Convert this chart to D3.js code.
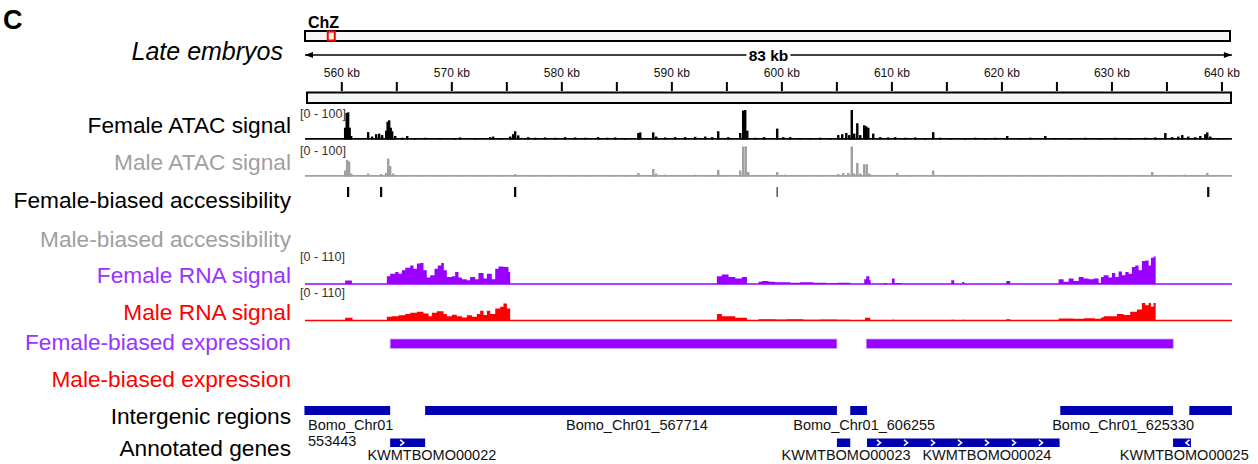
<!DOCTYPE html>
<html><head><meta charset="utf-8">
<script src="https://cdn.jsdelivr.net/npm/d3@7"></script>
<style>body{margin:0;background:#fff}svg{display:block;font-family:"Liberation Sans",Arial,Helvetica,sans-serif}</style>
</head><body><svg id="c" width="1258" height="464"></svg>
<script>
// ---------------- DATA ----------------
const regionKb = [556.7, 640.95];
const chromLenKb = 21500;
const majorTicks = [560, 570, 580, 590, 600, 610, 620, 630, 640];
const minorTicks = [565, 575, 585, 595, 605, 615, 625, 635];
const regionLabel = "83 kb";
const trackNames = ["Female ATAC signal","Male ATAC signal","Female-biased accessibility","Male-biased accessibility",
  "Female RNA signal","Male RNA signal","Female-biased expression","Male-biased expression","Intergenic regions","Annotated genes"];
const atacRange = "[0 - 100]";
const rnaRange = "[0 - 110]";

// ATAC peaks: [position kb, value]
const femaleATAC = [
[560.35,40],[560.49,90],[560.62,92],[560.76,40],[560.9,12],[562.44,25],[562.8,10],[563.17,18],[563.44,20],[563.71,15],
[564.08,30],[564.21,60],[564.35,65],[564.49,40],[564.62,28],[564.9,12],[565.53,6],[565.99,12],[566.71,5],[567.62,6],
[568.99,4],[570.35,5],[570.8,7],[572.17,4],[573.53,8],[573.8,10],[574.44,5],[575.35,10],[575.62,18],[575.8,28],[576.08,14],
[576.99,8],[577.62,6],[578.53,7],[579.44,6],[580.35,8],[581.26,7],[582.17,6],[583.35,8],[584.17,6],[584.9,7],[585.8,5],
[587.0,22],[587.17,24],[588.35,24],[588.62,10],[589.44,7],[590.35,8],[591.26,8],[592.17,9],[593.08,10],[593.71,8],
[594.26,28],[595.17,8],[596.26,22],[596.53,98],[596.71,100],[596.9,30],[597.62,6],[598.44,8],[599.62,37],[600.17,8],
[600.8,8],[601.71,5],[602.62,5],[603.53,6],[604.44,5],[605.17,15],[605.53,18],[605.9,22],[606.17,15],[606.4,100],
[606.62,20],[606.9,55],[607.17,15],[607.53,48],[607.71,45],[607.9,40],[608.35,20],[608.99,8],[609.71,7],[610.35,8],
[611.26,6],[612.17,7],[613.08,5],[613.8,25],[614.44,6],[615.35,5],[616.71,5],[617.62,6],[618.53,5],[619.44,6],
[620.53,12],[621.71,5],[622.62,6],[623.99,12],[624.9,5],[626.26,5],[627.62,6],[628.99,5],[630.35,6],[631.71,5],
[633.08,6],[633.99,7],[634.9,22],[635.53,8],[636.08,10],[636.44,15],[636.99,10],[637.62,8],[638.08,12],[638.53,18],
[638.71,24],[638.99,10],[639.71,4]
];
const maleATAC = [
[560.35,20],[560.53,55],[560.71,50],[560.9,10],[562.44,10],[563.62,8],[564.08,12],[564.26,60],[564.44,35],[564.71,10],
[565.8,5],[567.17,4],[568.99,3],[570.8,4],[572.62,3],[574.44,3],[575.8,8],[577.17,4],[578.99,3],[580.8,4],[582.62,4],
[584.44,5],[585.8,4],[587.0,12],[588.35,25],[588.62,10],[589.44,6],[590.8,5],[592.17,6],[593.53,5],[594.26,22],[594.9,5],
[596.26,20],[596.53,100],[596.76,100],[596.99,15],[598.08,4],[599.62,15],[600.35,6],[601.71,3],[603.53,4],[605.17,8],
[605.62,12],[606.08,12],[606.4,100],[606.62,10],[606.9,45],[607.17,10],[607.53,41],[607.76,41],[607.99,10],[608.99,5],
[610.53,12],[611.71,4],[613.8,20],[614.9,4],[616.26,3],[618.08,4],[619.9,3],[621.71,4],[623.53,3],[625.35,4],[627.17,3],
[628.99,4],[630.8,4],[632.62,4],[633.71,15],[635.35,4],[636.71,6],[637.62,5],[638.71,12],[639.44,4]
];

// differential accessibility: [start kb, end kb]
const femaleBiasedAccess = [[560.52,560.72],[563.52,563.72],[575.7,575.9],[599.57,599.65],[638.7,638.9]];
const maleBiasedAccess = [];

// RNA coverage steps: [position kb, value]
const femaleRNA = [
[556.7,0],[560.35,13],[560.96,0],
[564.14,28],[564.44,38],[564.90,44],[565.20,38],[565.50,50],[565.81,60],[566.26,68],[566.56,56],[566.87,75],[567.17,77],
[567.47,50],[567.77,24],[568.08,32],[568.47,56],[568.77,68],[569.08,77],[569.32,50],[569.59,26],[570.05,28],[570.35,44],
[570.65,24],[570.96,17],[571.41,14],[571.71,26],[572.17,17],[572.47,40],[572.93,20],[573.23,38],[573.68,17],[573.99,56],
[574.29,64],[574.74,62],[575.20,44],[575.35,0],
[594.14,28],[594.59,35],[595.2,26],[595.81,20],[596.41,26],[596.87,0],
[597.93,8],[598.23,11],[598.84,8],[599.44,6],[599.9,6],[600.8,5],[601.7,6],[602.9,5],[604.1,3],[605.05,5],[606.26,0],
[607.53,17],[607.71,28],[608.0,14],[608.12,0],[609.3,4],[609.6,0],[610.05,20],[610.29,4],[610.95,0],
[615.44,14],[615.71,0],[616.44,7],[616.62,0],[620.44,11],[620.8,0],
[625.2,17],[625.65,8],[626.11,20],[626.56,11],[627.02,26],[627.47,20],[627.93,17],[628.38,20],[628.84,4],[629.05,26],
[629.29,32],[629.74,24],[630.05,40],[630.35,26],[630.65,46],[630.96,32],[631.26,44],[631.56,38],[631.86,62],[632.17,68],
[632.47,50],[632.77,84],[633.08,86],[633.38,68],[633.59,96],[633.83,101],[634.02,0],[640.95,0]
];
const maleRNA = [
[556.7,0],[560.35,10],[561.02,0],
[564.14,14],[564.59,16],[565.2,19],[565.81,24],[566.26,28],[566.87,32],[567.47,26],[567.93,16],[568.23,28],[568.68,34],
[569.29,24],[569.59,16],[570.05,21],[570.5,16],[570.96,11],[571.41,19],[571.87,14],[572.32,24],[572.62,36],[572.93,20],
[573.23,36],[573.53,24],[573.99,44],[574.44,50],[574.74,62],[575.05,44],[575.35,0],
[594.14,24],[594.59,16],[595.81,10],[596.87,0],
[597.93,5],[599.44,4],[600.5,5],[602.0,3],[603.5,4],[605.05,3],[606.26,0],
[607.6,10],[608.08,0],[610.05,3],[610.29,0],[615.44,3],[615.71,0],[616.44,3],[616.62,0],[620.44,5],[620.8,0],
[625.2,7],[626.5,6],[627.5,8],[628.5,6],[629.05,11],[629.29,16],[630.5,24],[631.11,20],[631.71,32],[632.32,40],
[632.77,64],[633.08,56],[633.38,64],[633.59,50],[633.83,64],[634.02,0],[640.95,0]
];

// differential expression: [start kb, end kb]
const femaleBiasedExpr = [[564.44,605.05],[607.71,635.62]];
const maleBiasedExpr = [];

// intergenic regions: [start, end]
const intergenic = [[556.65,564.44],[567.62,605.05],[606.26,607.78],[625.35,635.6],[637.08,640.96]];
// intergenic labels: [text, position kb]
const intergenicLabels = [["Bomo_Chr01_567714",586.87],["Bomo_Chr01_606255",607.53],["Bomo_Chr01_625330",631.06]];
const firstIntergenicLabel = ["Bomo_Chr01","553443"];
// genes: [name, start, end, strand, label position kb]
const genes = [
  ["KWMTBOMO00022",564.44,567.62,"+",568.23],
  ["KWMTBOMO00023",605.05,606.26,"",605.88],
  ["KWMTBOMO00024",607.78,625.29,"+",618.68],
  ["KWMTBOMO00025",635.6,637.23,"-",636.62]
];

// ---------------- DRAW ----------------
const svg = d3.select("#c");
const x = d3.scaleLinear().domain(regionKb).range([305, 1231.9]);
const FONT = '"Liberation Sans",Arial,Helvetica,sans-serif';

// panel letter and title
svg.append("text").attr("x",3).attr("y",29).attr("font-size",27).attr("font-weight","bold").text("C");
svg.append("text").attr("x",283).attr("y",60).attr("text-anchor","end").attr("font-size",25).attr("font-style","italic").text("Late embryos");

// chromosome ideogram
svg.append("text").attr("x",308).attr("y",27.5).attr("font-size",16).attr("font-weight","bold").text("ChZ");
svg.append("rect").attr("x",305).attr("y",31).attr("width",925).attr("height",10).attr("fill","#f6f6f6").attr("stroke","#000").attr("stroke-width",2);
const ideo = d3.scaleLinear().domain([0,chromLenKb]).range([305,1230]);
const ic = ideo((regionKb[0]+regionKb[1])/2);
svg.append("rect").attr("x",ic-3).attr("y",31.5).attr("width",7).attr("height",9).attr("fill","none").attr("stroke","#ff0000").attr("stroke-width",2);

// span arrow
const ay = 55;
svg.append("line").attr("x1",x(regionKb[0])).attr("x2",x(regionKb[1])).attr("y1",ay).attr("y2",ay).attr("stroke","#000").attr("stroke-width",1.4);
svg.append("path").attr("d",`M${x(regionKb[0])},${ay} l8,-3 l0,6 z`).attr("fill","#000");
svg.append("path").attr("d",`M${x(regionKb[1])},${ay} l-8,-3 l0,6 z`).attr("fill","#000");
const mid = x((regionKb[0]+regionKb[1])/2);
svg.append("rect").attr("x",mid-22).attr("y",ay-9).attr("width",44).attr("height",18).attr("fill","#fff");
svg.append("text").attr("x",mid).attr("y",ay+5.5).attr("text-anchor","middle").attr("font-size",15.5).attr("font-weight","bold").text(regionLabel);

// ruler
const axMaj = d3.axisTop(x).tickValues(majorTicks).tickSize(9).tickPadding(5).tickFormat(d=>d+" kb");
const gA = svg.append("g").attr("transform","translate(0,91)").call(axMaj);
gA.select(".domain").remove();
gA.selectAll("line").attr("stroke","#000").attr("stroke-width",2);
gA.selectAll("text").attr("font-size",12).attr("font-family",FONT).attr("fill","#111");
const axMin = d3.axisTop(x).tickValues(minorTicks).tickSize(9).tickFormat("");
const gB = svg.append("g").attr("transform","translate(0,91)").call(axMin);
gB.select(".domain").remove();
gB.selectAll("line").attr("stroke","#000").attr("stroke-width",2);
svg.append("rect").attr("x",307).attr("y",92.5).attr("width",924).attr("height",10.5).attr("fill","#f6f6f6").attr("stroke","#000").attr("stroke-width",2);

// left labels
const labelColors = ["#000","#a0a0a0","#000","#a0a0a0","#9933ff","#ff0000","#9933ff","#ff0000","#000","#000"];
const labelY = [133,170,208,246.5,282.5,320,350,387,423.5,456];
svg.append("g").selectAll("text").data(trackNames).join("text")
  .attr("x",291).attr("y",(d,i)=>labelY[i]).attr("text-anchor","end").attr("font-size",22.7)
  .attr("fill",(d,i)=>labelColors[i]).text(d=>d);

// ATAC tracks
function atacTrack(data, top, bottom, color, rangeTxt, rangeY){
  const y = d3.scaleLinear().domain([0,100]).range([bottom, top]).clamp(true);
  const g = svg.append("g");
  g.append("line").attr("x1",x(regionKb[0])).attr("x2",x(regionKb[1])).attr("y1",bottom-0.6).attr("y2",bottom-0.6).attr("stroke",color).attr("stroke-width",1.6);
  g.selectAll("rect").data(data).join("rect")
    .attr("x",d=>x(d[0]-0.11)).attr("width",d=>x(d[0]+0.11)-x(d[0]-0.11))
    .attr("y",d=>y(d[1])).attr("height",d=>bottom-y(d[1])).attr("fill",color);
  svg.append("text").attr("x",300).attr("y",rangeY).attr("font-size",12.5).attr("fill","#333").text(rangeTxt);
}
atacTrack(femaleATAC,110,139.5,"#000",atacRange,117.5);
atacTrack(maleATAC,146.5,176.5,"#a0a0a0",atacRange,155);

// accessibility intervals
function intervals(data, y0, h, color){
  svg.append("g").selectAll("rect").data(data).join("rect")
    .attr("x",d=>x(d[0])).attr("width",d=>Math.max(1,x(d[1])-x(d[0])))
    .attr("y",y0).attr("height",h).attr("fill",color);
}
intervals(femaleBiasedAccess,187,10,"#000");
intervals(maleBiasedAccess,225,10,"#a0a0a0");

// RNA tracks
function rnaTrack(data, top, bottom, color, rangeTxt, rangeY){
  const y = d3.scaleLinear().domain([0,110]).range([bottom, top]).clamp(true);
  const area = d3.area().x(d=>x(d[0])).y0(bottom).y1(d=>y(d[1])).curve(d3.curveStepAfter);
  svg.append("path").datum(data).attr("d",area).attr("fill",color);
  svg.append("line").attr("x1",x(regionKb[0])).attr("x2",x(regionKb[1])).attr("y1",bottom).attr("y2",bottom).attr("stroke",color).attr("stroke-width",1.3);
  svg.append("text").attr("x",300).attr("y",rangeY).attr("font-size",12.5).attr("fill","#333").text(rangeTxt);
}
rnaTrack(femaleRNA,254,284,"#9900ff",rnaRange,260.5);
rnaTrack(maleRNA,290.5,320.5,"#ff0000",rnaRange,297);

// expression intervals
svg.append("g").selectAll("rect").data(femaleBiasedExpr).join("rect")
  .attr("x",d=>x(d[0])).attr("width",d=>x(d[1])-x(d[0])).attr("y",339).attr("height",9.5)
  .attr("fill","#9900ff").attr("stroke","#d2a6ff").attr("stroke-width",0.8);
svg.append("g").selectAll("rect").data(maleBiasedExpr).join("rect")
  .attr("x",d=>x(d[0])).attr("width",d=>x(d[1])-x(d[0])).attr("y",376).attr("height",9.5).attr("fill","#ff0000");

// intergenic regions
const BLUE = "#0000b2";
svg.append("g").selectAll("rect").data(intergenic).join("rect")
  .attr("x",d=>x(Math.max(d[0],regionKb[0]-0.05))).attr("width",d=>x(Math.min(d[1],regionKb[1]))-x(Math.max(d[0],regionKb[0]-0.05)))
  .attr("y",406).attr("height",9).attr("fill",BLUE);
svg.append("g").selectAll("text").data(intergenicLabels).join("text")
  .attr("x",d=>x(d[1])).attr("y",430).attr("text-anchor","middle").attr("font-size",14.5).attr("fill","#111").text(d=>d[0]);
svg.append("text").attr("x",308).attr("y",430).attr("font-size",14.5).attr("fill","#111").text(firstIntergenicLabel[0]);
svg.append("text").attr("x",308).attr("y",446).attr("font-size",14.5).attr("fill","#111").text(firstIntergenicLabel[1]);

// genes
const gy = 438.5, gh = 8.5;
const gG = svg.append("g");
gG.selectAll("rect").data(genes).join("rect")
  .attr("x",d=>x(d[1])).attr("width",d=>x(d[2])-x(d[1])).attr("y",gy).attr("height",gh).attr("fill",BLUE);
genes.forEach(d=>{
  if(!d[3]) return;
  const x0 = x(d[1]), x1 = x(d[2]);
  const cy = gy+gh/2;
  if(d[3]==="+"){
    for(let cx=x0+12; cx<x1-4; cx+=27)
      gG.append("path").attr("d",`M${cx-2},${cy-2.8}L${cx+1.5},${cy}L${cx-2},${cy+2.8}`).attr("fill","none").attr("stroke","#fff").attr("stroke-width",1.6);
  } else {
    for(let cx=x1-3; cx>x0+3; cx-=27)
      gG.append("path").attr("d",`M${cx+1.5},${cy-2.8}L${cx-2},${cy}L${cx+1.5},${cy+2.8}`).attr("fill","none").attr("stroke","#fff").attr("stroke-width",1.6);
  }
});
gG.selectAll("text").data(genes).join("text")
  .attr("x",d=>x(d[4])).attr("y",460).attr("text-anchor","middle").attr("font-size",14.5).attr("fill","#111").text(d=>d[0]);
</script></body></html>
